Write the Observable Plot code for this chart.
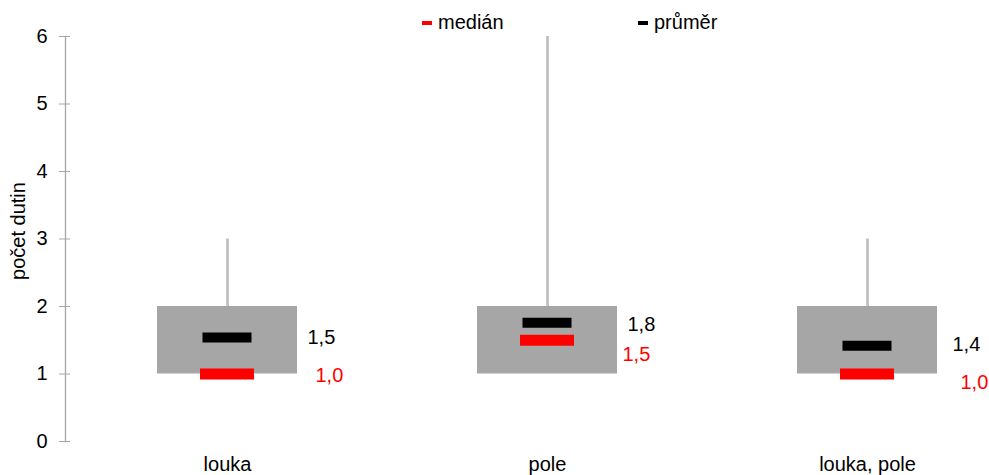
<!DOCTYPE html>
<html><head><meta charset="utf-8">
<script src="https://cdn.jsdelivr.net/npm/d3@7"></script>
<script src="https://cdn.jsdelivr.net/npm/@observablehq/plot@0.6"></script>
<style>
body{margin:0;background:#fff;font-family:"Liberation Sans",Arial,sans-serif}
#wrap{position:relative;width:989px;height:475px;overflow:hidden}
.leg{position:absolute;top:10px;font-size:20px;color:#000;line-height:24px;white-space:nowrap}
.sw{position:absolute;width:10px;height:4px}
#ylab{position:absolute;left:18px;top:231px;font-size:20px;transform:translate(-50%,-50%) rotate(-90deg);white-space:nowrap;color:#000}
</style></head><body><div id="wrap"></div>
<script>
const categories = ["louka", "pole", "louka, pole"];
const q1 = [1, 1, 1];
const q3 = [2, 2, 2];
const maxs = [3, 6, 3];
const medians = [1.0, 1.5, 1.0];
const means = [1.54, 1.76, 1.42];
const yTicks = [0, 1, 2, 3, 4, 5, 6];
const legendLabels = ["medián", "průměr"];
const yTitle = "počet dutin";

// label placement (styling, not data)
const meanLabelOffset = {"louka": [80, 0], "pole": [80, 2], "louka, pole": [85, -1]};
const medianLabelOffset = {"louka": [88, 2], "pole": [75, 14], "louka, pole": [93, 9]};

const data = categories.map((c, i) => ({cat: c, q1: q1[i], q3: q3[i], max: maxs[i], median: medians[i], mean: means[i]}));
const fmt = v => v.toFixed(1).replace(".", ",");

const marks = [
  Plot.ruleX(data, {x: "cat", y1: "q3", y2: "max", stroke: "#bfbfbf", strokeWidth: 2.7}),
  Plot.barY(data, {x: "cat", y1: "q1", y2: "q3", fill: "#a6a6a6", insetLeft: 90, insetRight: 90}),
  Plot.tickY(data, {x: "cat", y: "median", stroke: "#ff0000", strokeWidth: 11, insetLeft: 133, insetRight: 133}),
  Plot.tickY(data, {x: "cat", y: "mean", stroke: "#000000", strokeWidth: 10, insetLeft: 135.5, insetRight: 135.5}),
  ...data.map(d => Plot.text([d], {x: "cat", y: "mean", text: dd => fmt(dd.mean), textAnchor: "start", dx: meanLabelOffset[d.cat][0], dy: meanLabelOffset[d.cat][1], fill: "#000", fontSize: 20})),
  ...data.map(d => Plot.text([d], {x: "cat", y: "median", text: dd => fmt(dd.median), textAnchor: "start", dx: medianLabelOffset[d.cat][0], dy: medianLabelOffset[d.cat][1], fill: "#ff0000", fontSize: 20})),
  Plot.frame({anchor: "left", stroke: "#a6a6a6", strokeWidth: 1.3}),
  Plot.axisY(yTicks, {tickSize: 6, tickPadding: 12, fontSize: 20, stroke: "#a6a6a6", fill: "#000", label: null, tickFormat: d => String(d)}),
  Plot.tickY(yTicks, {y: d => d, stroke: "#a6a6a6", insetLeft: 0, insetRight: 919}),
  Plot.axisX({tickSize: 0, tickPadding: 15, fontSize: 20, fill: "#000", label: null})
];

const chart = Plot.plot({
  width: 989,
  height: 475,
  marginLeft: 65,
  marginRight: 0,
  marginTop: 36,
  marginBottom: 34,
  style: {fontFamily: "Liberation Sans, Arial, sans-serif", fontSize: "20px", color: "#000", background: "#fff", overflow: "visible"},
  x: {type: "band", domain: categories, range: [67, 1027], padding: 0, axis: null},
  y: {domain: [0, 6], axis: null},
  marks
});

const wrap = document.getElementById("wrap");
wrap.appendChild(chart);

const legColors = ["#ff0000", "#000000"];
const legX = [422, 638];
legendLabels.forEach((t, i) => {
  const sw = document.createElement("div");
  sw.className = "sw";
  sw.style.left = legX[i] + "px";
  sw.style.top = "21px";
  sw.style.background = legColors[i];
  wrap.appendChild(sw);
  const s = document.createElement("div");
  s.className = "leg";
  s.style.left = (legX[i] + 16) + "px";
  s.textContent = t;
  wrap.appendChild(s);
});
const yl = document.createElement("div");
yl.id = "ylab";
yl.textContent = yTitle;
wrap.appendChild(yl);
</script>
</body></html>
